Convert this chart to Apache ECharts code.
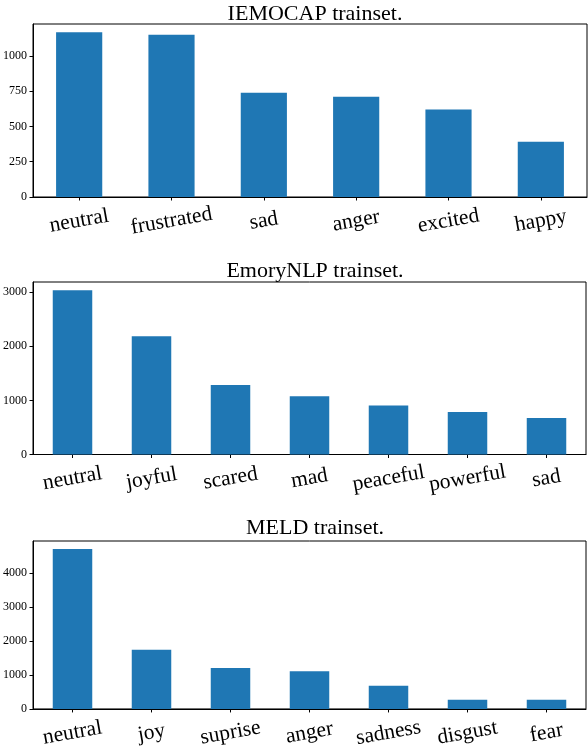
<!DOCTYPE html>
<html>
<head>
<meta charset="utf-8">
<script src="https://cdn.jsdelivr.net/npm/echarts@6/dist/echarts.min.js"></script>
<style>
  html, body { margin: 0; padding: 0; background: #fff; }
  #main { width: 588px; height: 750px; }
</style>
</head>
<body>
<div id="main"></div>
<script>
// IEMOCAP trainset
var iemocapLabels = ['neutral', 'frustrated', 'sad', 'anger', 'excited', 'happy'];
var iemocapCounts = [1167, 1150, 738, 710, 619, 391];
var iemocapTicks = [0, 250, 500, 750, 1000];

// EmoryNLP trainset
var emoryLabels = ['neutral', 'joyful', 'scared', 'mad', 'peaceful', 'powerful', 'sad'];
var emoryCounts = [3034, 2184, 1285, 1076, 903, 784, 673];
var emoryTicks = [0, 1000, 2000, 3000];

// MELD trainset
var meldLabels = ['neutral', 'joy', 'suprise', 'anger', 'sadness', 'disgust', 'fear'];
var meldCounts = [4710, 1743, 1205, 1109, 683, 271, 268];
var meldTicks = [0, 1000, 2000, 3000, 4000];

var titles = ['IEMOCAP trainset.', 'EmoryNLP trainset.', 'MELD trainset.'];

var font = '"Liberation Serif", "DejaVu Serif", serif';
var barColor = '#1f77b4';

document.addEventListener('DOMContentLoaded', function() {
    var chart = echarts.init(document.getElementById('main'));

    var panels = [
        { labels: iemocapLabels, counts: iemocapCounts, ticks: iemocapTicks, top: 24, height: 173, width: 554 },
        { labels: emoryLabels, counts: emoryCounts, ticks: emoryTicks, top: 282, height: 172.5, width: 553 },
        { labels: meldLabels, counts: meldCounts, ticks: meldTicks, top: 541, height: 171, width: 553 }
    ];

    var titleTops = [-2, 255, 512];

    var option = {
        animation: false,
        backgroundColor: '#fff',
        textStyle: { fontFamily: font },
        title: titles.map(function(t, i) {
            return {
                text: t,
                left: 310,
                top: titleTops[i],
                textAlign: 'center',
                textStyle: { fontFamily: font, fontSize: 22, fontWeight: 'normal', color: '#000' }
            };
        }),
        grid: [],
        xAxis: [],
        yAxis: [],
        series: []
    };

    panels.forEach(function(p, i) {
        // matplotlib style headroom above the tallest bar
        var ymax = Math.max.apply(null, p.counts) * 1.05;

        option.grid.push({
            left: 33, top: p.top, width: p.width, height: p.height,
            show: true, borderColor: '#000', borderWidth: 1, backgroundColor: 'transparent'
        });
        option.xAxis.push({
            type: 'category',
            gridIndex: i,
            data: p.labels,
            boundaryGap: true,
            axisLine: { show: true, lineStyle: { color: '#000', width: 1 } },
            axisTick: { show: true, alignWithLabel: true, length: 3.5, lineStyle: { color: '#000' } },
            axisLabel: {
                interval: 0,
                rotate: 10,
                align: 'center',
                verticalAlign: 'middle',
                margin: 24,
                fontFamily: font,
                fontSize: 21.5,
                color: '#000'
            },
            splitLine: { show: false }
        });
        option.yAxis.push({
            type: 'value',
            gridIndex: i,
            min: 0,
            max: ymax,
            axisLine: { show: true, lineStyle: { color: '#000', width: 1 } },
            axisTick: { show: true, length: 3.5, lineStyle: { color: '#000' }, customValues: p.ticks },
            axisLabel: {
                fontFamily: font, fontSize: 12, color: '#000', margin: 6,
                customValues: p.ticks,
                formatter: function(v) { return String(v); }
            },
            splitLine: { show: false }
        });
        option.series.push({
            type: 'bar',
            xAxisIndex: i,
            yAxisIndex: i,
            data: p.counts,
            barWidth: '50%',
            itemStyle: { color: barColor }
        });
    });

    chart.setOption(option);
});
</script>
</body>
</html>
